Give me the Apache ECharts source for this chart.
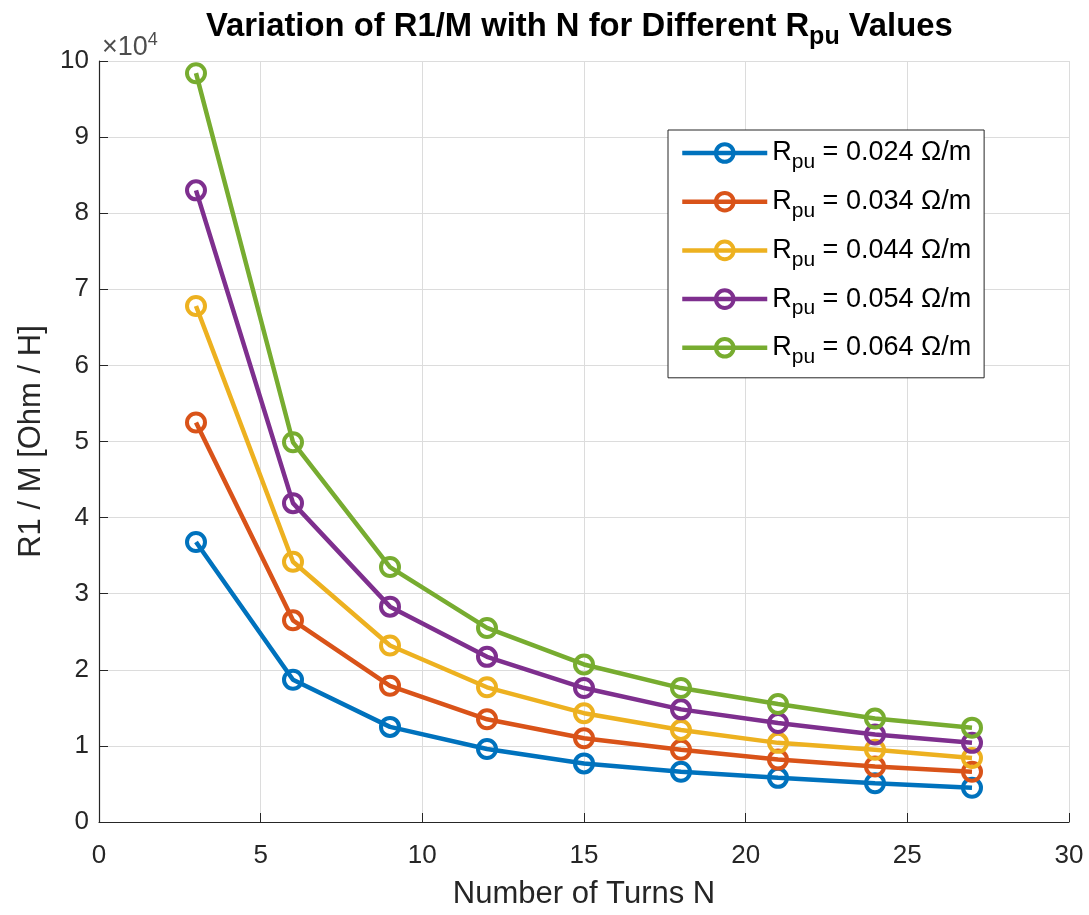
<!DOCTYPE html>
<html>
<head>
<meta charset="utf-8">
<script src="https://cdn.jsdelivr.net/npm/echarts@6/dist/echarts.min.js"></script>
<style>html,body{margin:0;padding:0;background:#fff}#c{width:1089px;height:915px}</style>
</head>
<body>
<div id="c"></div>
<script>
const turns = [3, 6, 9, 12, 15, 18, 21, 24, 27];
const rpuLabels = ['0.024', '0.034', '0.044', '0.054', '0.064'];
const s024 = [36800, 18700, 12500, 9600, 7700, 6600, 5800, 5100, 4500];
const s034 = [52500, 26500, 17900, 13500, 11000, 9500, 8200, 7300, 6600];
const s044 = [67800, 34200, 23200, 17700, 14300, 12100, 10400, 9500, 8400];
const s054 = [83000, 41900, 28300, 21700, 17600, 14800, 13000, 11500, 10400];
const s064 = [98400, 49900, 33500, 25500, 20700, 17600, 15500, 13600, 12400];
const seriesValues = [s024, s034, s044, s054, s064];
const colors = ['#0072BD', '#D95319', '#EDB120', '#7E2F8E', '#77AC30'];
const xTicks = [0, 5, 10, 15, 20, 25, 30];
const yTicks = [0, 1, 2, 3, 4, 5, 6, 7, 8, 9, 10];

const FONT = '"Liberation Sans", Arial, sans-serif';
const chart = echarts.init(document.getElementById('c'));

const series = seriesValues.map((vals, i) => ({
  name: 'R_pu = ' + rpuLabels[i] + ' Ω/m',
  type: 'line',
  data: turns.map((t, j) => [t, vals[j]]),
  symbol: 'circle',
  symbolSize: 18,
  lineStyle: { width: 4.5, color: colors[i] },
  itemStyle: { color: 'rgba(255,255,255,0)', borderColor: colors[i], borderWidth: 4 },
  emphasis: { disabled: true },
  z: 2 + i
}));

chart.setOption({
  animation: false,
  backgroundColor: '#ffffff',
  color: colors,
  title: {
    text: '{t|Variation of R1/M with N for Different R}{s|pu}{t| Values}',
    left: 201,
    top: -2,
    textStyle: {
      rich: {
        t: { fontFamily: FONT, fontWeight: 'bold', fontSize: 32.8, color: '#000' },
        s: { fontFamily: FONT, fontWeight: 'bold', fontSize: 25, color: '#000', padding: [22, 0, 0, 0] }
      }
    }
  },
  graphic: [{
    type: 'text',
    left: 102,
    top: 31,
    style: {
      text: '×10{e|4}',
      font: '27px ' + FONT,
      fill: '#4d4d4d',
      rich: { e: { fontSize: 18, fill: '#4d4d4d', padding: [0, 0, 15, 0], fontFamily: FONT } }
    }
  }],
  grid: { left: 99, right: 20, top: 61, bottom: 91, containLabel: false },
  legend: {
    orient: 'vertical',
    left: 668,
    top: 130,
    padding: [3, 13, 10, 12],
    itemWidth: 85,
    itemHeight: 22,
    itemGap: 8.7,
    backgroundColor: '#fff',
    borderColor: '#262626',
    borderWidth: 1,
    borderRadius: 0,
    lineStyle: { width: 4.5 },
    itemStyle: { borderWidth: 4 },
    formatter: function (name) {
      const v = name.replace('R_pu = ', '');
      return '{n|R}{s|pu}{n| = ' + v + '}';
    },
    textStyle: {
      fontFamily: FONT,
      fontSize: 27,
      color: '#000',
      rich: {
        n: { fontSize: 27, fontFamily: FONT, color: '#000', lineHeight: 30 },
        s: { fontSize: 21, fontFamily: FONT, color: '#000', padding: [19, 0, 0, 0], lineHeight: 30 }
      }
    },
    data: series.map(s => s.name)
  },
  xAxis: {
    type: 'value',
    min: 0, max: 30, interval: 5,
    name: 'Number of Turns N',
    nameLocation: 'middle',
    nameGap: 57,
    nameTextStyle: { fontFamily: FONT, fontSize: 31, color: '#262626' },
    axisLine: { show: true, onZero: false, lineStyle: { color: '#262626', width: 1.2 } },
    axisTick: { show: true, inside: true, length: 9, lineStyle: { color: '#262626' } },
    axisLabel: { fontFamily: FONT, fontSize: 26, color: '#262626', margin: 21,
      formatter: v => xTicks.includes(v) ? String(v) : '' },
    splitLine: { show: true, lineStyle: { color: '#dcdcdc', width: 1 } }
  },
  yAxis: {
    type: 'value',
    min: 0, max: 100000, interval: 10000,
    name: 'R1 / M [Ohm / H]',
    nameLocation: 'middle',
    nameGap: 52,
    nameTextStyle: { fontFamily: FONT, fontSize: 31, color: '#262626' },
    axisLine: { show: true, lineStyle: { color: '#262626', width: 1.2 } },
    axisTick: { show: true, inside: true, length: 9, lineStyle: { color: '#262626' } },
    axisLabel: { fontFamily: FONT, fontSize: 26, color: '#262626', margin: 10,
      formatter: v => { const k = Math.round(v / 10000); return yTicks.includes(k) ? String(k) : ''; } },
    splitLine: { show: true, lineStyle: { color: '#dcdcdc', width: 1 } }
  },
  series: series
});
</script>
</body>
</html>
